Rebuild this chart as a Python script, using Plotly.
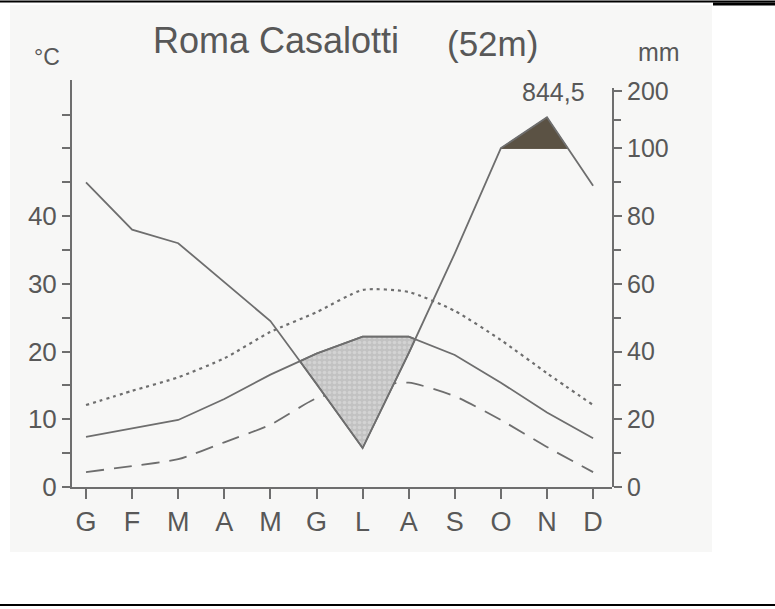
import plotly.graph_objects as go

# ---------------- data ----------------
months = ["G", "F", "M", "A", "M", "G", "L", "A", "S", "O", "N", "D"]
t_mean = [7.4, 8.6, 9.9, 13.0, 16.6, 19.7, 22.2, 22.2, 19.5, 15.4, 11.0, 7.2]
t_max = [12.1, 14.2, 16.2, 19.0, 22.9, 25.8, 29.1, 28.8, 26.0, 21.7, 16.8, 12.1]
t_min = [2.2, 3.1, 4.1, 6.6, 9.2, 13.1, 14.7, 15.4, 13.4, 9.9, 5.9, 2.2]
precip = [90, 76, 72, 60.5, 49, 30.5, 11.5, 39.5, 69, 100.5, 154, 89]
temp_ticks = [0, 10, 20, 30, 40]
mm_ticks = [0, 20, 40, 60, 80, 100, 200]
annual_total = "844,5"
station = "Roma Casalotti"
altitude = "(52m)"

# ---------------- scale helpers ----------------
COMP = 0.085  # compression above 100 mm


def mm_to_y(p):
    return p / 2.0 if p <= 100 else 50 + (p - 100) * COMP


x = list(range(12))
p_y = [mm_to_y(p) for p in precip]

LC = "#6e6e6e"
TXT = "#585858"
FONT = "Liberation Sans, Arial, sans-serif"


def cross(x0, a0, b0, x1, a1, b1):
    d0, d1 = a0 - b0, a1 - b1
    t = d0 / (d0 - d1)
    return x0 + t * (x1 - x0), a0 + t * (a1 - a0)


# arid period polygon (temperature above precipitation)
diff = [t - p for t, p in zip(t_mean, p_y)]
top_pts, bot_pts = [], []
for i in range(11):
    if diff[i] <= 0 < diff[i + 1]:
        cx, cy = cross(i, t_mean[i], p_y[i], i + 1, t_mean[i + 1], p_y[i + 1])
        top_pts.append((cx, cy))
    if diff[i] > 0 and top_pts:
        top_pts.append((i, t_mean[i]))
        bot_pts.append((i, p_y[i]))
    if diff[i] > 0 >= diff[i + 1]:
        cx, cy = cross(i, t_mean[i], p_y[i], i + 1, t_mean[i + 1], p_y[i + 1])
        top_pts.append((cx, cy))
arid = top_pts + bot_pts[::-1]
arid.append(arid[0])

# humid period above 100 mm polygon
wet_top = []
for i in range(11):
    a0, a1 = p_y[i] - 50, p_y[i + 1] - 50
    if a0 > 0:
        wet_top.append((i, p_y[i]))
    if (a0 <= 0 < a1) or (a0 > 0 >= a1):
        cx, _ = cross(i, p_y[i], 50, i + 1, p_y[i + 1], 50)
        wet_top.append((cx, 50))
wet_top.sort()
wet = wet_top + [(wet_top[-1][0], 50), (wet_top[0][0], 50), wet_top[0]]

fig = go.Figure()

fig.add_trace(go.Scatter(x=x, y=t_min, mode="lines", hoverinfo="skip",
                         line=dict(color=LC, width=1.8, dash="18px,10px", shape="spline", smoothing=0.6)))
fig.add_trace(go.Scatter(x=x, y=t_max, mode="lines", hoverinfo="skip",
                         line=dict(color=LC, width=2.2, dash="3px,4px", shape="spline", smoothing=0.6)))
fig.add_trace(go.Scatter(x=[p[0] for p in arid], y=[p[1] for p in arid], mode="lines",
                         fill="toself", fillcolor="#c8c8c8", hoverinfo="skip",
                         fillpattern=dict(shape=".", bgcolor="#c2c2c2", fgcolor="#e4e4e4",
                                          size=5, solidity=0.4),
                         line=dict(color=LC, width=1.6)))
fig.add_trace(go.Scatter(x=[p[0] for p in wet], y=[p[1] for p in wet], mode="lines",
                         fill="toself", fillcolor="#5b5244", hoverinfo="skip",
                         line=dict(color="#5b5244", width=1)))
fig.add_trace(go.Scatter(x=x, y=t_mean, mode="lines", hoverinfo="skip",
                         line=dict(color=LC, width=1.8)))
fig.add_trace(go.Scatter(x=x, y=p_y, mode="lines", hoverinfo="skip",
                         line=dict(color=LC, width=1.8)))
# carrier for right axis
fig.add_trace(go.Scatter(x=[0], y=[0], yaxis="y2", mode="markers", marker=dict(opacity=0),
                         hoverinfo="skip"))

mm_vals = [mm_to_y(v) for v in mm_ticks]

fig.update_layout(
    width=775, height=609,
    margin=dict(l=72, r=163, t=80, b=122),
    paper_bgcolor="white", plot_bgcolor="rgba(0,0,0,0)",
    showlegend=False,
    font=dict(family=FONT, color=TXT, size=24),
    xaxis=dict(range=[-0.304, 11.41], tickvals=x, ticktext=months, showgrid=False,
               zeroline=False, showline=True, linecolor=LC, linewidth=2,
               ticks="outside", ticklen=10, tickwidth=1.5, tickcolor=LC,
               tickfont=dict(size=27, color=TXT), fixedrange=True),
    yaxis=dict(range=[0, 60.1], tickvals=temp_ticks, showgrid=False, zeroline=False,
               showline=True, linecolor=LC, linewidth=2, ticks="outside", ticklen=8,
               tickwidth=1.5, tickcolor=LC, tickfont=dict(size=26, color=TXT),
               minor=dict(tickvals=[5, 15, 25, 35, 45, 50, 55], ticks="outside",
                          ticklen=8, tickwidth=1.5, tickcolor=LC),
               fixedrange=True),
    yaxis2=dict(range=[0, 58.9], domain=[0, 0.98], anchor="x", side="right",
                tickvals=mm_vals, ticktext=[str(v) for v in mm_ticks], showgrid=False,
                zeroline=False, showline=True, linecolor=LC, linewidth=2,
                ticks="outside", ticklen=8, tickwidth=1.5, tickcolor=LC,
                tickfont=dict(size=25, color=TXT),
                minor=dict(tickvals=[5, 15, 25, 35, 45, mm_to_y(150)], ticks="outside",
                           ticklen=7, tickwidth=1.5, tickcolor=LC),
                fixedrange=True),
)


def px(xp):
    return (xp - 72) / 540.0


def py(yp):
    return (487 - yp) / 407.0


ann = [
    (station, 276, 41, 36),
    (altitude, 492, 43, 35),
    ("°C", 47, 57, 23),
    ("mm", 659, 52, 25),
    (annual_total, 553, 92, 25),
]
for text, xx, yy, sz in ann:
    fig.add_annotation(text=text, x=px(xx), y=py(yy), xref="paper", yref="paper",
                       showarrow=False, xanchor="center", yanchor="middle",
                       font=dict(size=sz, color=TXT, family=FONT))

# scanned sheet background and rules
fig.add_shape(type="rect", xref="paper", yref="paper", x0=px(10), x1=px(712), y0=py(552), y1=py(5),
              fillcolor="#f7f7f6", line=dict(width=0), layer="below")
fig.add_shape(type="line", xref="paper", yref="paper", x0=px(0), x1=px(775), y0=py(1.5), y1=py(1.5),
              line=dict(color="black", width=2))
fig.add_shape(type="line", xref="paper", yref="paper", x0=px(713), x1=px(775), y0=py(4), y1=py(4),
              line=dict(color="black", width=3))
fig.add_shape(type="line", xref="paper", yref="paper", x0=px(0), x1=px(775), y0=py(605), y1=py(605),
              line=dict(color="black", width=2))

fig.write_html("out.html", config={"displayModeBar": False},
               post_script="document.body.style.margin='0';")
